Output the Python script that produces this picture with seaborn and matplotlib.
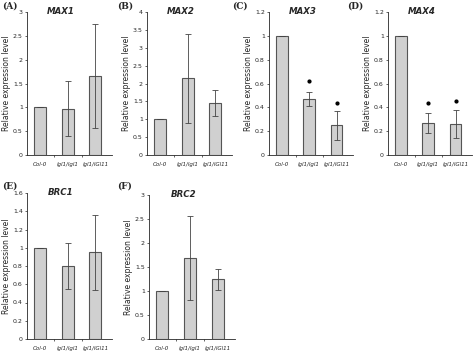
import matplotlib
matplotlib.use("Agg")
import matplotlib.pyplot as plt
import seaborn as sns
import numpy as np

# genotypes on the x axis
genotypes = ["Col-0", "lgl1/lgl1", "lgl1/lGl11"]

# one entry per gene panel
genes = ["MAX1", "MAX2", "MAX3", "MAX4", "BRC1", "BRC2"]
letters = ["(A)", "(B)", "(C)", "(D)", "(E)", "(F)"]

max1_mean = [1.0, 0.97, 1.66]
max1_err = [0.0, 0.58, 1.09]
max2_mean = [1.0, 2.14, 1.46]
max2_err = [0.0, 1.25, 0.36]
max3_mean = [1.0, 0.47, 0.25]
max3_err = [0.0, 0.055, 0.12]
max4_mean = [1.0, 0.27, 0.26]
max4_err = [0.0, 0.085, 0.115]
brc1_mean = [1.0, 0.80, 0.95]
brc1_err = [0.0, 0.25, 0.41]
brc2_mean = [1.0, 1.69, 1.24]
brc2_err = [0.0, 0.88, 0.22]

means = [max1_mean, max2_mean, max3_mean, max4_mean, brc1_mean, brc2_mean]
errs = [max1_err, max2_err, max3_err, max4_err, brc1_err, brc2_err]

# y axis top and tick step
y_max = [3, 4, 1.2, 1.2, 1.6, 3]
y_step = [0.5, 0.5, 0.2, 0.2, 0.2, 0.5]

# significance marks (panel index -> star heights, None = no star)
stars = {2: [None, 0.62, 0.44], 3: [None, 0.44, 0.45]}

# axes boxes in pixels: left, top, right, bottom
W, H = 474, 355
boxes = [(27, 12, 112, 155), (147, 12, 232, 155), (269, 12, 353, 155),
         (388, 12, 472, 155), (27, 193, 112, 339), (149, 195, 235, 339)]
letter_pos = [(2, 6), (117, 6), (232, 6), (347, 6), (2, 186), (117, 186)]

sns.set_style("ticks")
fig = plt.figure(figsize=(W / 100, H / 100), dpi=100)
fig.patch.set_facecolor("white")

for i, gene in enumerate(genes):
    l, t, r, b = boxes[i]
    ax = fig.add_axes([l / W, 1 - b / H, (r - l) / W, (b - t) / H])
    sns.barplot(x=genotypes, y=means[i], color="#d0d0d0", edgecolor="#555555",
                linewidth=0.8, width=0.43, saturation=1, errorbar=None, ax=ax)
    ax.errorbar(range(3), means[i], yerr=errs[i], fmt="none", ecolor="#444444",
                elinewidth=0.6, capsize=2, capthick=0.6)
    if i in stars:
        for xi, sy in enumerate(stars[i]):
            if sy is not None:
                ax.plot(xi, sy, marker="o", color="black", markersize=2)
    ax.set_xlim(-0.47, 2.6)
    ax.set_ylim(0, y_max[i])
    ticks = np.round(np.arange(0, y_max[i] + 1e-9, y_step[i]), 2)
    ax.set_yticks(ticks)
    ax.set_yticklabels([f"{v:g}" for v in ticks], fontsize=4.5)
    ax.set_xticks(range(3))
    ax.set_xticklabels(genotypes, fontsize=4, style="italic")
    ax.set_xticks([0.5, 1.5], minor=True)
    ax.tick_params(axis="x", which="major", length=0, pad=5)
    ax.tick_params(axis="x", which="minor", length=1.5, width=0.5)
    ax.tick_params(axis="y", length=1.5, width=0.5, pad=1.5)
    ax.set_xlabel("")
    ax.set_ylabel("Relative expression level", fontsize=5.5, labelpad=1.5)
    for side in ["top", "right"]:
        ax.spines[side].set_visible(False)
    for side in ["left", "bottom"]:
        ax.spines[side].set_linewidth(0.6)
    ax.text(0.4, 1.0, gene, transform=ax.transAxes, ha="center", va="center",
            fontsize=6.2, fontweight="bold", style="italic")
    lx, ly = letter_pos[i]
    fig.text(lx / W, 1 - ly / H, letters[i], ha="left", va="center",
             fontsize=6.5, fontweight="bold", family="DejaVu Serif")

plt.savefig("out.png", dpi=100, facecolor="white")
plt.close()
